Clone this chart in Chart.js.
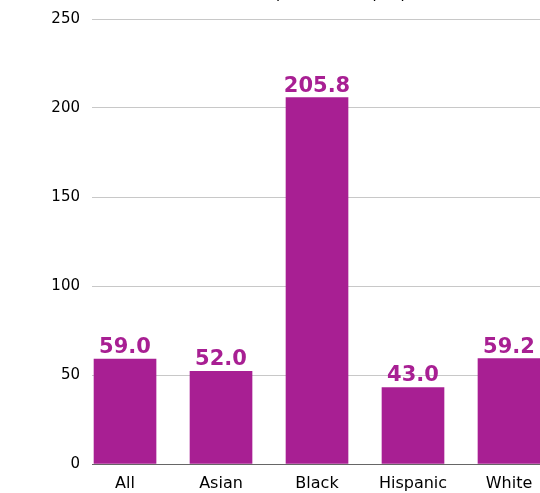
<!DOCTYPE html>
<html>
<head>
<meta charset="utf-8">
<script src="https://cdn.jsdelivr.net/npm/chart.js@4"></script>
<style>
html,body{margin:0;padding:0;background:#fff;}
#wrap{position:relative;width:540px;height:493px;overflow:hidden;}
canvas{display:block;}
</style>
</head>
<body>
<div id="wrap"><canvas id="c" width="540" height="493"></canvas></div>
<script>
const categories = ["All", "Asian", "Black", "Hispanic", "White"];
const values = [59.0, 52.0, 205.8, 43.0, 59.2];
const yTicks = [0, 50, 100, 150, 200, 250];
const titleText = "Deaths per 100,000 people";

const barColor = "#A81F93";
const FONT = "'DejaVu Sans', sans-serif";

const labelPlugin = {
  id: 'valueLabels',
  afterDatasetsDraw(chart) {
    const ctx = chart.ctx;
    const meta = chart.getDatasetMeta(0);
    ctx.save();
    ctx.fillStyle = barColor;
    ctx.font = "bold 21px " + FONT;
    ctx.textAlign = 'center';
    ctx.textBaseline = 'alphabetic';
    meta.data.forEach((bar, i) => {
      ctx.fillText(values[i].toFixed(1), bar.x, bar.y - 6);
    });
    ctx.restore();
  },
  afterDraw(chart) {
    const ctx = chart.ctx;
    ctx.save();
    ctx.fillStyle = '#000';
    ctx.font = "15px " + FONT;
    ctx.textAlign = 'left';
    ctx.textBaseline = 'alphabetic';
    const pre = ctx.measureText("Deaths ").width;
    ctx.fillText(titleText, 276 - pre, -2);
    ctx.restore();
  }
};

new Chart(document.getElementById('c'), {
  type: 'bar',
  data: {
    datasets: [{
      data: values.map((v, i) => ({x: i, y: v})),
      backgroundColor: barColor,
      borderWidth: 0,
      barThickness: 62
    }]
  },
  options: {
    responsive: false,
    animation: false,
    events: [],
    layout: {padding: {top: 19, left: 0, right: 0, bottom: 0}},
    plugins: {legend: {display: false}, tooltip: {enabled: false}, title: {display: false}},
    scales: {
      x: {
        type: 'linear',
        offset: false,
        min: -0.344,
        max: 4.323,
        afterBuildTicks(scale) { scale.ticks = categories.map((c, i) => ({value: i})); },
        grid: {display: false, drawTicks: false},
        border: {display: true, color: '#666', width: 1},
        ticks: {
          callback: (v) => categories[v],
          color: '#000',
          font: {family: FONT, size: 16},
          padding: 10,
          autoSkip: false,
          maxRotation: 0
        },
        afterFit(scale) { scale.height = 29; scale.paddingLeft = 0; scale.paddingRight = 0; }
      },
      y: {
        min: 0,
        max: 250,
        afterBuildTicks(scale) { scale.ticks = yTicks.map(v => ({value: v})); },
        grid: {color: '#c8c8c8', drawTicks: false, lineWidth: 1},
        border: {display: false},
        ticks: {
          color: '#000',
          font: {family: FONT, size: 15},
          padding: 12
        },
        afterFit(scale) { scale.width = 92; scale.paddingTop = 0; scale.paddingBottom = 0; }
      }
    }
  },
  plugins: [labelPlugin]
});
</script>
</body>
</html>
